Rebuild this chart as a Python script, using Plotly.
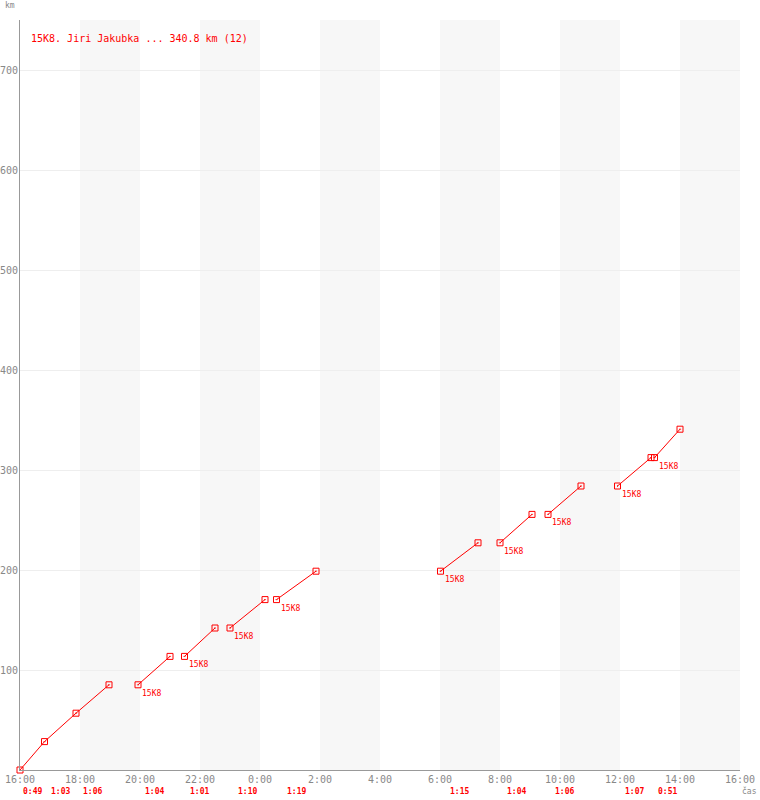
import plotly.graph_objects as go

# ---- data ----
title_text = "15K8. Jiri Jakubka ... 340.8 km (12)"
point_times = ["16:00", "16:49", "17:52", "18:58",
               "19:56", "21:00",
               "21:29", "22:30",
               "23:00", "00:10",
               "00:33", "01:52",
               "06:01", "07:16",
               "08:00", "09:04",
               "09:36", "10:42",
               "11:55", "13:02",
               "13:09", "14:00"]
point_km = [0.0, 28.4, 56.8, 85.2,
            85.2, 113.6,
            113.6, 142.0,
            142.0, 170.4,
            170.4, 198.8,
            198.8, 227.2,
            227.2, 255.6,
            255.6, 284.0,
            284.0, 312.4,
            312.4, 340.8]
point_segment = [1, 1, 1, 1, 2, 2, 3, 3, 4, 4, 5, 5, 6, 6, 7, 7, 8, 8, 9, 9, 10, 10]
segment_label = "15K8"
leg_durations = ["0:49", "1:03", "1:06", "1:04", "1:01", "1:10", "1:19",
                 "1:15", "1:04", "1:06", "1:07", "0:51"]
x_tick_labels = ["16:00", "18:00", "20:00", "22:00", "0:00", "2:00", "4:00",
                 "6:00", "8:00", "10:00", "12:00", "14:00", "16:00"]
y_tick_values = [100, 200, 300, 400, 500, 600, 700]
band_starts = ["18:00", "22:00", "02:00", "06:00", "10:00", "14:00"]


def hours_since_start(t):
    h, m = t.split(":")
    return (int(h) + int(m) / 60.0 - 16.0) % 24.0


RED = "#ff0000"
GRAY = "#888888"
MONO = "DejaVu Sans Mono"

xs = [hours_since_start(t) for t in point_times]

fig = go.Figure()

# bands
for b in band_starts:
    s = hours_since_start(b)
    fig.add_shape(type="rect", xref="x", yref="paper", x0=s, x1=s + 2, y0=0, y1=1,
                  fillcolor="#f7f7f7", line_width=0, layer="below")

# segments
segs = []
for i, s in enumerate(point_segment):
    if not segs or segs[-1][0] != s:
        segs.append((s, []))
    segs[-1][1].append(i)

leg_mid = []
for k, (s, idx) in enumerate(segs):
    fig.add_trace(go.Scatter(
        x=[xs[i] for i in idx], y=[point_km[i] for i in idx],
        mode="lines+markers",
        line=dict(color=RED, width=1),
        marker=dict(symbol="square-open-dot", size=6, color=RED, line=dict(width=1, color=RED)),
        hoverinfo="skip", showlegend=False, cliponaxis=False))
    for a, b in zip(idx[:-1], idx[1:]):
        leg_mid.append((xs[a] + xs[b]) / 2)
    if k > 0:
        i0 = idx[0]
        fig.add_annotation(x=xs[i0], y=point_km[i0], xref="x", yref="y",
                           text=segment_label, showarrow=False,
                           xanchor="left", yanchor="top", xshift=2, yshift=-2,
                           font=dict(family=MONO, size=8, color=RED))

# duration labels below axis
for xm, lab in zip(leg_mid, leg_durations):
    fig.add_annotation(x=xm, y=-0.029, xref="x", yref="paper", text="<b>" + lab + "</b>",
                       showarrow=False, xanchor="center", yanchor="middle",
                       font=dict(family=MONO, size=8, color=RED))

# title and axis captions
fig.add_annotation(x=0.0125, y=0.976, xref="paper", yref="paper", text=title_text,
                   showarrow=False, xanchor="left", yanchor="middle",
                   font=dict(family=MONO, size=10, color=RED))
fig.add_annotation(x=-0.024, y=1.019, xref="paper", yref="paper", text="km",
                   showarrow=False, xanchor="left", yanchor="middle",
                   font=dict(family=MONO, size=8, color=GRAY))
fig.add_annotation(x=1.0, y=-0.028, xref="paper", yref="paper", text="čas",
                   showarrow=False, xanchor="left", yanchor="middle",
                   font=dict(family=MONO, size=8, color=GRAY))

fig.update_layout(
    width=760, height=800,
    margin=dict(l=20, r=20, t=20, b=30, autoexpand=False),
    paper_bgcolor="white", plot_bgcolor="white",
    xaxis=dict(range=[0, 24], tickvals=list(range(0, 25, 2)), ticktext=x_tick_labels,
               automargin=False,
               showgrid=False, zeroline=False, showline=True, linecolor="#999999",
               linewidth=1, ticks="", tickfont=dict(family=MONO, size=10, color=GRAY)),
    yaxis=dict(range=[0, 750], tickvals=y_tick_values,
               ticktext=[str(v) for v in y_tick_values], automargin=False,
               showgrid=True, gridcolor="#eeeeee", zeroline=False, showline=True,
               linecolor="#999999", linewidth=1, ticks="", ticklabelstandoff=-1,
               tickfont=dict(family=MONO, size=10, color=GRAY)),
)

fig.write_html("out.html", config={"displayModeBar": False},
               post_script="document.body.style.margin='0px';document.body.style.overflow='hidden';")
